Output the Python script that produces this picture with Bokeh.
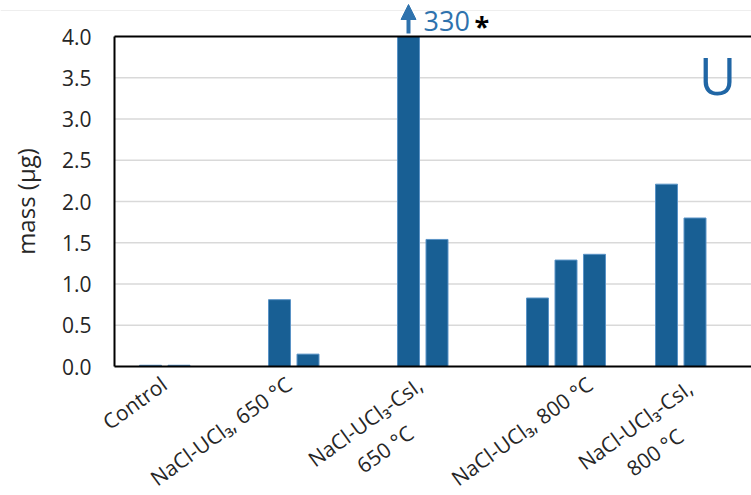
import numpy as np
from bokeh.plotting import figure
from bokeh.models import Range1d, Label, Arrow, NormalHead, ColumnDataSource
from bokeh.core.properties import value
from bokeh.embed import file_html
from bokeh.resources import INLINE

# ---- data ----
categories = ["Control", "NaCl-UCl\u2083, 650 \u00b0C", "NaCl-UCl\u2083-CsI,\n650 \u00b0C",
              "NaCl-UCl\u2083, 800 \u00b0C", "NaCl-UCl\u2083-CsI,\n800 \u00b0C"]
rep1 = [0.015, 0.81, 330.0, 0.83, 2.21]
rep2 = [0.015, 0.15, 1.54, 1.29, 1.80]
rep3 = [np.nan, np.nan, np.nan, 1.36, np.nan]
y_ticks = [0.0, 0.5, 1.0, 1.5, 2.0, 2.5, 3.0, 3.5, 4.0]
y_label = "mass (\u00b5g)"
panel_letter = "U"

# ---- layout / style ----
W, H = 751, 495
PX_LEFT, PX_BOTTOM = 114, 366      # where x=-0.5 and y=0 fall on the canvas
PX_X, PX_Y = 129.0, 82.5           # pixels per category / per µg
FONT = "Open Sans"
BAR = "#185f94"
BLUE_TXT = "#2e72ad"
TXT = "#262626"
YMAX = 4.0
slot = 0.2209
bar_w = 0.1705

x0 = -0.5 - PX_LEFT / PX_X
x1 = -0.5 + (W - PX_LEFT) / PX_X
y0 = -(H - PX_BOTTOM) / PX_Y
y1 = PX_BOTTOM / PX_Y

p = figure(width=W, height=H, output_backend="svg", toolbar_location=None,
           x_range=Range1d(x0, x1), y_range=Range1d(y0, y1),
           min_border=0, min_border_left=0, min_border_right=0,
           min_border_top=0, min_border_bottom=0,
           x_axis_location=None, y_axis_location=None)
p.outline_line_color = None
p.grid.visible = False
p.background_fill_color = "white"
p.border_fill_color = "white"

# faint line at the very top of the reference image
p.segment(x0=[x0], x1=[x1], y0=[y1 - 10 / PX_Y], y1=[y1 - 10 / PX_Y],
          line_color="#eeeeee", line_width=1)

# gridlines
inner = [t for t in y_ticks if 0 < t < YMAX]
p.segment(x0=[-0.5] * len(inner), x1=[x1] * len(inner), y0=inner, y1=inner,
          line_color="#d9d9d9", line_width=1.5)

# bars
idx = np.arange(len(categories))
for k, series in enumerate([rep1, rep2, rep3]):
    vals = np.array(series, dtype=float)
    mask = ~np.isnan(vals)
    src = ColumnDataSource(dict(x=(idx + (k - 1) * slot)[mask],
                                top=np.minimum(vals[mask], YMAX)))
    p.vbar(x="x", top="top", bottom=0, width=bar_w, source=src, fill_color=BAR,
           line_color="#5a93c6", line_width=1)

# axes frame lines
p.segment(x0=[-0.5, -0.5, -0.5], x1=[-0.5, x1, x1], y0=[0, 0, YMAX], y1=[YMAX, 0, YMAX],
          line_color="black", line_width=2)

# y tick labels
p.text(x=[-0.5] * len(y_ticks), y=y_ticks, text=[f"{t:.1f}" for t in y_ticks],
       x_offset=-23, text_align="right", text_baseline="middle",
       text_font=value(FONT), text_font_size="21px", text_color=TXT)

# y axis title
p.add_layout(Label(x=-0.5, y=YMAX / 2, x_offset=-89, text=y_label, angle=90,
                   angle_units="deg", text_font=FONT, text_font_size="24px",
                   text_color=TXT, text_align="center", text_baseline="middle"))

# off-scale marker
r1 = np.array(rep1)
for i in np.where(r1 > YMAX)[0]:
    xb = i - slot
    p.add_layout(Arrow(end=NormalHead(size=15, fill_color=BLUE_TXT, line_color=BLUE_TXT),
                       x_start=xb, y_start=YMAX + 3 / PX_Y, x_end=xb, y_end=YMAX + 32 / PX_Y,
                       line_color=BLUE_TXT, line_width=4))
    p.add_layout(Label(x=xb, y=YMAX + 16 / PX_Y, x_offset=15, text=f"{int(r1[i])}",
                       text_font=FONT, text_font_size="27px", text_color=BLUE_TXT,
                       text_align="left", text_baseline="middle"))
    p.add_layout(Label(x=xb, y=YMAX + 11 / PX_Y, x_offset=66, text="*",
                       text_font=FONT, text_font_size="27px", text_font_style="bold",
                       text_color="black", text_align="left", text_baseline="middle"))

# panel letter
p.add_layout(Label(x=-0.5 + (717 - PX_LEFT) / PX_X, y=YMAX - 38.5 / PX_Y, text=panel_letter,
                   text_font=FONT, text_font_size="51px", text_color="#2066a5",
                   text_align="center", text_baseline="middle"))

# category labels (rotated), offsets in pixels from the category centre
offsets = [(-15, 15), (-19, 15), (-62, 69), (24, 15), (-50, 72)]
for i, (lab, (dx, dy)) in enumerate(zip(categories, offsets)):
    multi = "\n" in lab
    p.add_layout(Label(x=i + dx / PX_X, y=-dy / PX_Y, text=lab,
                       angle=36, angle_units="deg", text_font=FONT,
                       text_font_size="21px", text_color=TXT,
                       text_align="center" if multi else "right",
                       text_baseline="middle"))

open("out.html", "w").write(file_html(p, INLINE))
